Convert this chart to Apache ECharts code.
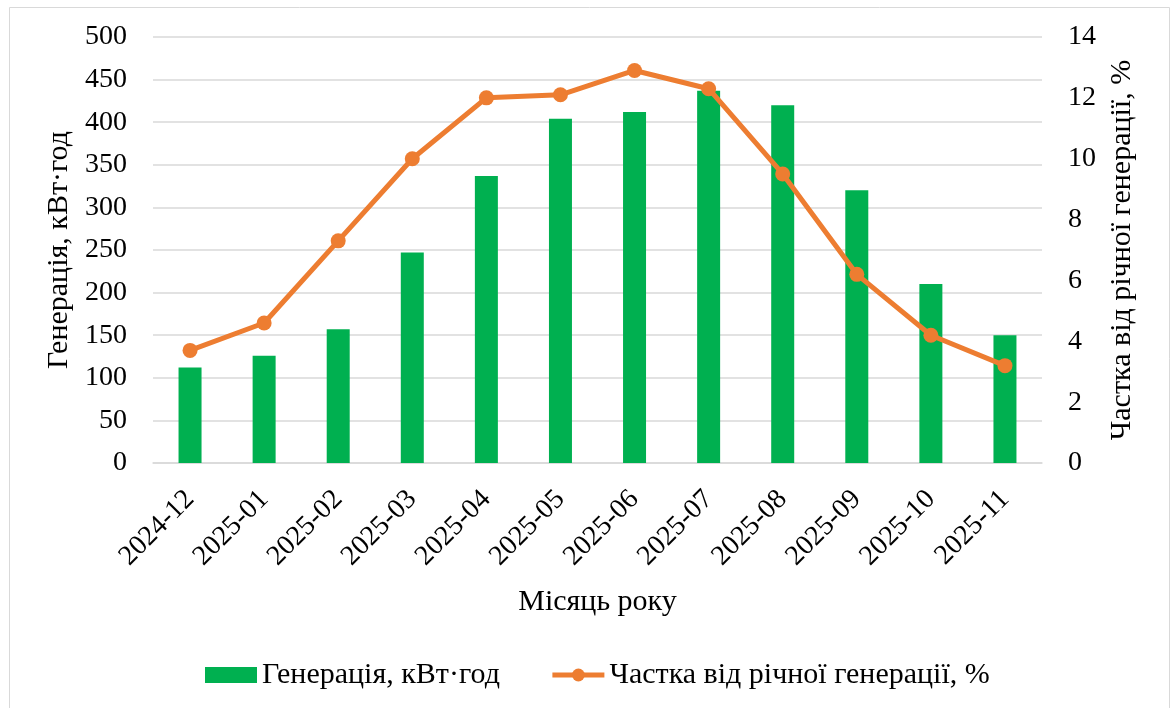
<!DOCTYPE html>
<html><head><meta charset="utf-8">
<script src="https://cdn.jsdelivr.net/npm/echarts@6/dist/echarts.min.js"></script>
<style>html,body{margin:0;padding:0;background:#fff}#c{width:1176px;height:708px}</style>
</head><body><div id="c"></div>
<script>
const months = ['2024-12','2025-01','2025-02','2025-03','2025-04','2025-05','2025-06','2025-07','2025-08','2025-09','2025-10','2025-11'];
const generation = [112, 126, 157, 247, 337, 404, 412, 437, 420, 320, 210, 150];
const share = [3.7, 4.6, 7.3, 10.0, 12.0, 12.1, 12.9, 12.3, 9.5, 6.2, 4.2, 3.2];
const leftTicks = {min: 0, max: 500, interval: 50};
const rightTicks = {min: 0, max: 14, interval: 2};
const barName = 'Генерація, кВт·год';
const lineName = 'Частка від річної генерації, %';
const xName = 'Місяць року';

const FONT = '"Liberation Serif", "Times New Roman", serif';
const FS = 28;
const FN = 30;
const chart = echarts.init(document.getElementById('c'), null, {renderer: 'canvas'});
chart.setOption({
  animation: false,
  backgroundColor: '#fff',
  textStyle: {fontFamily: FONT, color: '#000'},
  graphic: [{type: 'rect', shape: {x: 9.5, y: 7.5, width: 1160, height: 720}, style: {fill: 'none', stroke: '#D9D9D9', lineWidth: 1}, silent: true}],
  grid: {left: 153, right: 134, top: 37, bottom: 245},
  legend: {
    left: 200, top: 655, itemWidth: 52, itemHeight: 16, itemGap: 50,
    textStyle: {fontFamily: FONT, fontSize: FN, color: '#000'},
    data: [
      {name: barName, icon: 'rect'},
      {name: lineName, lineStyle: {width: 5, color: '#ED7D31'}, itemStyle: {color: '#ED7D31'}}
    ]
  },
  xAxis: {
    type: 'category', data: months,
    name: xName, nameLocation: 'middle', nameGap: 124,
    nameTextStyle: {fontFamily: FONT, fontSize: FN, color: '#000'},
    axisLine: {lineStyle: {color: '#D9D9D9', width: 1.5}},
    axisTick: {show: false},
    axisLabel: {rotate: 45, margin: 32, fontFamily: FONT, fontSize: FS, color: '#000', interval: 0}
  },
  yAxis: [
    {type: 'value', min: leftTicks.min, max: leftTicks.max, interval: leftTicks.interval,
     name: barName, nameLocation: 'middle', nameGap: 77, nameRotate: 90,
     nameTextStyle: {fontFamily: FONT, fontSize: FN, color: '#000'},
     axisLine: {show: false}, axisTick: {show: false},
     axisLabel: {margin: 26, fontFamily: FONT, fontSize: FS, color: '#000'},
     splitLine: {lineStyle: {color: '#D9D9D9', width: 1.5}}},
    {type: 'value', min: rightTicks.min, max: rightTicks.max, interval: rightTicks.interval,
     name: lineName, nameLocation: 'middle', nameGap: 63, nameRotate: 90,
     nameTextStyle: {fontFamily: FONT, fontSize: FN, color: '#000'},
     axisLine: {show: false}, axisTick: {show: false},
     axisLabel: {margin: 26, fontFamily: FONT, fontSize: FS, color: '#000'},
     splitLine: {show: false}}
  ],
  series: [
    {name: barName, type: 'bar', data: generation, barWidth: 23, yAxisIndex: 0,
     itemStyle: {color: '#00B050'}},
    {name: lineName, type: 'line', data: share, yAxisIndex: 1,
     symbol: 'circle', symbolSize: 15,
     lineStyle: {color: '#ED7D31', width: 5},
     itemStyle: {color: '#ED7D31'}}
  ]
});
</script>
</body></html>
